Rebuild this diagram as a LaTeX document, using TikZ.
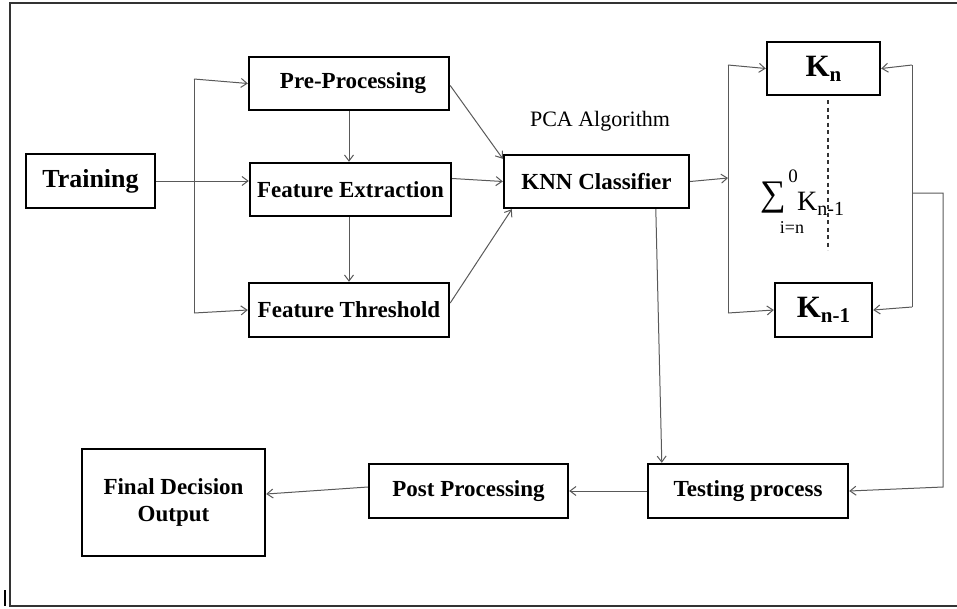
\documentclass[tikz,border=0pt]{standalone}
\usepackage{fontspec}
\setmainfont{Liberation Serif}
\usetikzlibrary{arrows.meta,calc}
\newcommand{\mysub}[2]{\raisebox{-0.35ex}{\fontsize{#1}{#1}\selectfont #2}}
\begin{document}
\begin{tikzpicture}[x=1pt,y=-1pt,
  box/.style={draw=black,line width=2.4pt,inner sep=0pt,align=center,
    font=\fontsize{23}{26}\selectfont\bfseries},
  conn/.style={draw=black!65,line width=1pt},
  arr/.style={conn,-{Straight Barb[length=6pt,width=9pt,line width=1pt]}},
  frameline/.style={draw=black!80,line width=2.2pt}]
\useasboundingbox (0,0) rectangle (957,608);
% frame
\draw[frameline] (957,3) -- (10,3) -- (10,606) -- (957,606);
\draw[line width=2pt,black] (5,590) -- (5,606);
% boxes
\node[box,minimum width=129pt,minimum height=54pt,font=\fontsize{26}{28}\selectfont\bfseries] (tr) at (90.5,181) {Training};
\node[box,minimum width=200pt,minimum height=53pt] (pre) at (349,83.5) {\hspace*{8pt}Pre-Processing};
\node[box,minimum width=201pt,minimum height=53pt] (fe) at (350.5,189.5) {Feature Extraction};
\node[box,minimum width=200pt,minimum height=54pt] (ft) at (349,310) {Feature Threshold};
\node[box,minimum width=185pt,minimum height=53pt] (knn) at (596.5,181.5) {KNN Classifier};
\node[box,minimum width=113pt,minimum height=53pt,font=\fontsize{31}{31}\selectfont\bfseries] (kn) at (823.5,68.5) {K\mysub{21}{n}};
\node[box,minimum width=97pt,minimum height=54pt,font=\fontsize{31}{31}\selectfont\bfseries] (kn1) at (823.5,310) {K\mysub{21}{n-1}};
\node[box,minimum width=183pt,minimum height=107pt,font=\fontsize{23}{27}\selectfont\bfseries] (fin) at (173.5,502.5) {Final Decision\\Output};
\node[box,minimum width=199pt,minimum height=54pt] (post) at (468.5,491) {Post Processing};
\node[box,minimum width=200pt,minimum height=54pt] (test) at (748,491) {Testing process};
% labels
\node[font=\fontsize{22}{22}\selectfont,inner sep=0pt] (pca) at (600,121) {PCA Algorithm};
\node[font=\fontsize{36}{36}\selectfont,inner sep=0pt] (sig) at (773,198) {∑};
\node[font=\fontsize{19}{19}\selectfont,inner sep=0pt] (sup) at (793,176) {0};
\node[font=\fontsize{28}{28}\selectfont,inner sep=0pt,anchor=west] (ksum) at (797,204) {K\mysub{20}{n-1}};
\node[font=\fontsize{18}{18}\selectfont,inner sep=0pt] (ieq) at (792,228) {i=n};
% dotted line
\coordinate (d1) at (828,100);
\coordinate (d2) at (828,250);
\draw[line width=1.8pt,black!80,dash pattern=on 4pt off 3.5pt] (d1) -- (d2);
% left bus
\coordinate (b1) at (194,79);
\coordinate (b2) at (194,313);
\draw[conn] (b1) -- (b2);
\draw[arr] (b1) -- (pre.west);
\draw[arr] (b2) -- (ft.west);
\draw[arr] (tr.east) -- (tr.east -| fe.west);
\draw[arr] (pre.south) -- (fe.north -| pre.south);
\draw[arr] (fe.south -| pre.south) -- (ft.north);
% into KNN
\draw[arr] ($(pre.east)+(0,2)$) -- ($(knn.north west)+(0,5)$);
\draw[arr] ($(fe.east)+(0,-11)$) -- (knn.west);
\draw[arr] ($(ft.east)+(0,-7)$) -- ($(knn.south west)+(9,0)$);
% K bus
\coordinate (kb1) at (728,65);
\coordinate (kb2) at (728,313);
\coordinate (kbm) at (728,178);
\draw[conn] (kb1) -- (kb2);
\draw[arr] (knn.east) -- (kbm);
\draw[arr] (kb1) -- (kn.west);
\draw[arr] (kb2) -- (kn1.west);
\coordinate (rb1) at (912,65);
\coordinate (rb2) at (912,307);
\coordinate (rbm) at (912,193);
\coordinate (rc1) at (943,193);
\coordinate (rc2) at (943,487);
\draw[conn] (rb1) -- (rb2);
\draw[arr] (rb1) -- (kn.east);
\draw[arr] (rb2) -- (kn1.east);
\draw[arr] (rbm) -- (rc1) -- (rc2) -- (test.east);
% to testing and down the chain
\draw[arr] ($(knn.south west)+(153,0)$) -- ($(test.north west)+(15,0)$);
\draw[arr] (test.west) -- (post.east);
\draw[arr] ($(post.west)+(0,-4)$) -- ($(fin.east)+(0,-8.5)$);
\end{tikzpicture}
\end{document}
